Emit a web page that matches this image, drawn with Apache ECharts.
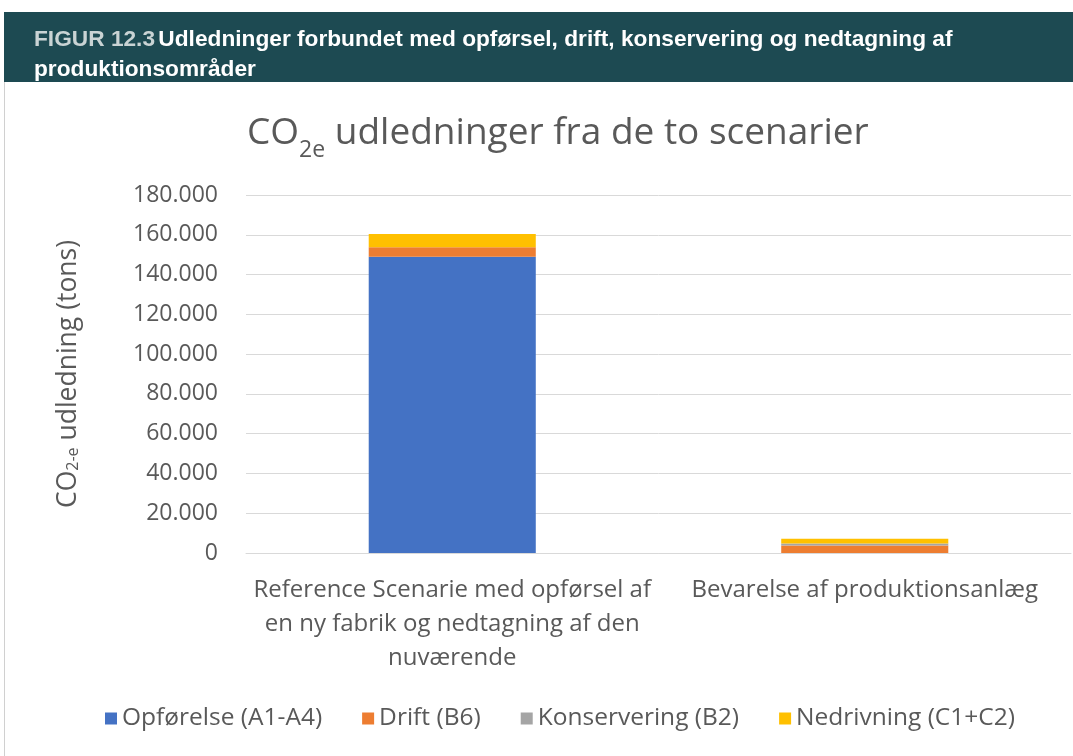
<!DOCTYPE html>
<html>
<head>
<meta charset="utf-8">
<script src="https://cdn.jsdelivr.net/npm/echarts@6/dist/echarts.min.js"></script>
<style>
  html, body { margin: 0; padding: 0; background: #fff; }
  #main { width: 1073px; height: 756px; }
</style>
</head>
<body>
<div id="main"></div>
<script>
// data
var categories = [
    'Reference Scenarie med opførsel af\nen ny fabrik og nedtagning af den\nnuværende',
    'Bevarelse af produktionsanlæg'
];
var opforelse = [149000, 0];
var drift = [4700, 3800];
var konservering = [0, 1000];
var nedrivning = [6700, 2400];

var textColor = '#595959';
var lineColor = '#d9d9d9';
var font = 'Open Sans';

var chart = echarts.init(document.getElementById('main'));

function numFmt(v) {
    // 160000 -> 160.000
    return String(v).replace(/\B(?=(\d{3})+(?!\d))/g, '.');
}

var option = {
    backgroundColor: '#fff',
    animation: false,
    textStyle: { fontFamily: font },
    graphic: [
        {
            type: 'rect',
            shape: { x: 4, y: 12, width: 1069, height: 70 },
            style: { fill: '#1d4a52' }
        },
        {
            type: 'line',
            shape: { x1: 4.5, y1: 82, x2: 4.5, y2: 756 },
            style: { stroke: '#d0d0d0', lineWidth: 1 }
        },
        {
            type: 'text',
            left: 34, top: 28,
            style: {
                text: '{a|FIGUR 12.3} {b|Udledninger forbundet med opførsel, drift, konservering og nedtagning af}\n{b|produktionsområder}',
                rich: {
                    a: { fill: '#c9d3d4', fontSize: 22.7, fontWeight: 'bold', fontFamily: 'Liberation Sans', lineHeight: 30 },
                    b: { fill: '#ffffff', fontSize: 22.7, fontWeight: 'bold', fontFamily: 'Liberation Sans', lineHeight: 30 }
                }
            }
        }
    ],
    title: {
        text: '{m|CO}{s|2e}{m| udledninger fra de to scenarier}',
        left: 242,
        top: 101,
        textStyle: {
            rich: {
                m: { fontSize: 37, fontWeight: 'normal', color: textColor, fontFamily: font, verticalAlign: 'bottom', lineHeight: 46 },
                s: { fontSize: 23, fontWeight: 'normal', color: textColor, fontFamily: font, verticalAlign: 'bottom', lineHeight: 34, padding: [0, 0, -10, 0] }
            }
        }
    },
    legend: {
        bottom: 20,
        left: 100,
        itemWidth: 12,
        itemHeight: 12,
        itemGap: 40,
        icon: 'rect',
        textStyle: { fontSize: 24.5, color: textColor, fontFamily: font },
        data: ['Opførelse (A1-A4)', 'Drift (B6)', 'Konservering (B2)', 'Nedrivning (C1+C2)']
    },
    grid: { left: 246, right: 2, top: 195, bottom: 203 },
    xAxis: {
        type: 'category',
        data: categories,
        axisTick: { show: false },
        axisLine: { lineStyle: { color: lineColor } },
        axisLabel: { color: textColor, fontSize: 24, lineHeight: 34, margin: 20, interval: 0, fontFamily: font }
    },
    yAxis: {
        type: 'value',
        min: 0,
        max: 180000,
        interval: 20000,
        name: '{m|CO}{s|2-e}{m| udledning (tons)}',
        nameLocation: 'middle',
        nameGap: 164,
        nameRotate: 90,
        nameTextStyle: {
            rich: {
                m: { fontSize: 26.5, color: textColor, fontFamily: font },
                s: { fontSize: 16, color: textColor, fontFamily: font, padding: [0, 0, -10, 0] }
            }
        },
        axisLabel: { color: textColor, fontSize: 23, margin: 28, formatter: numFmt, fontFamily: font },
        axisLine: { show: false },
        axisTick: { show: false },
        splitLine: { lineStyle: { color: lineColor, width: 1 } }
    },
    series: [
        { name: 'Opførelse (A1-A4)', type: 'bar', stack: 'tot', barWidth: '40.5%', data: opforelse, itemStyle: { color: '#4472c4' } },
        { name: 'Drift (B6)', type: 'bar', stack: 'tot', data: drift, itemStyle: { color: '#ed7d31' } },
        { name: 'Konservering (B2)', type: 'bar', stack: 'tot', data: konservering, itemStyle: { color: '#a5a5a5' } },
        { name: 'Nedrivning (C1+C2)', type: 'bar', stack: 'tot', data: nedrivning, itemStyle: { color: '#ffc000' } }
    ]
};

chart.setOption(option);
</script>
</body>
</html>
